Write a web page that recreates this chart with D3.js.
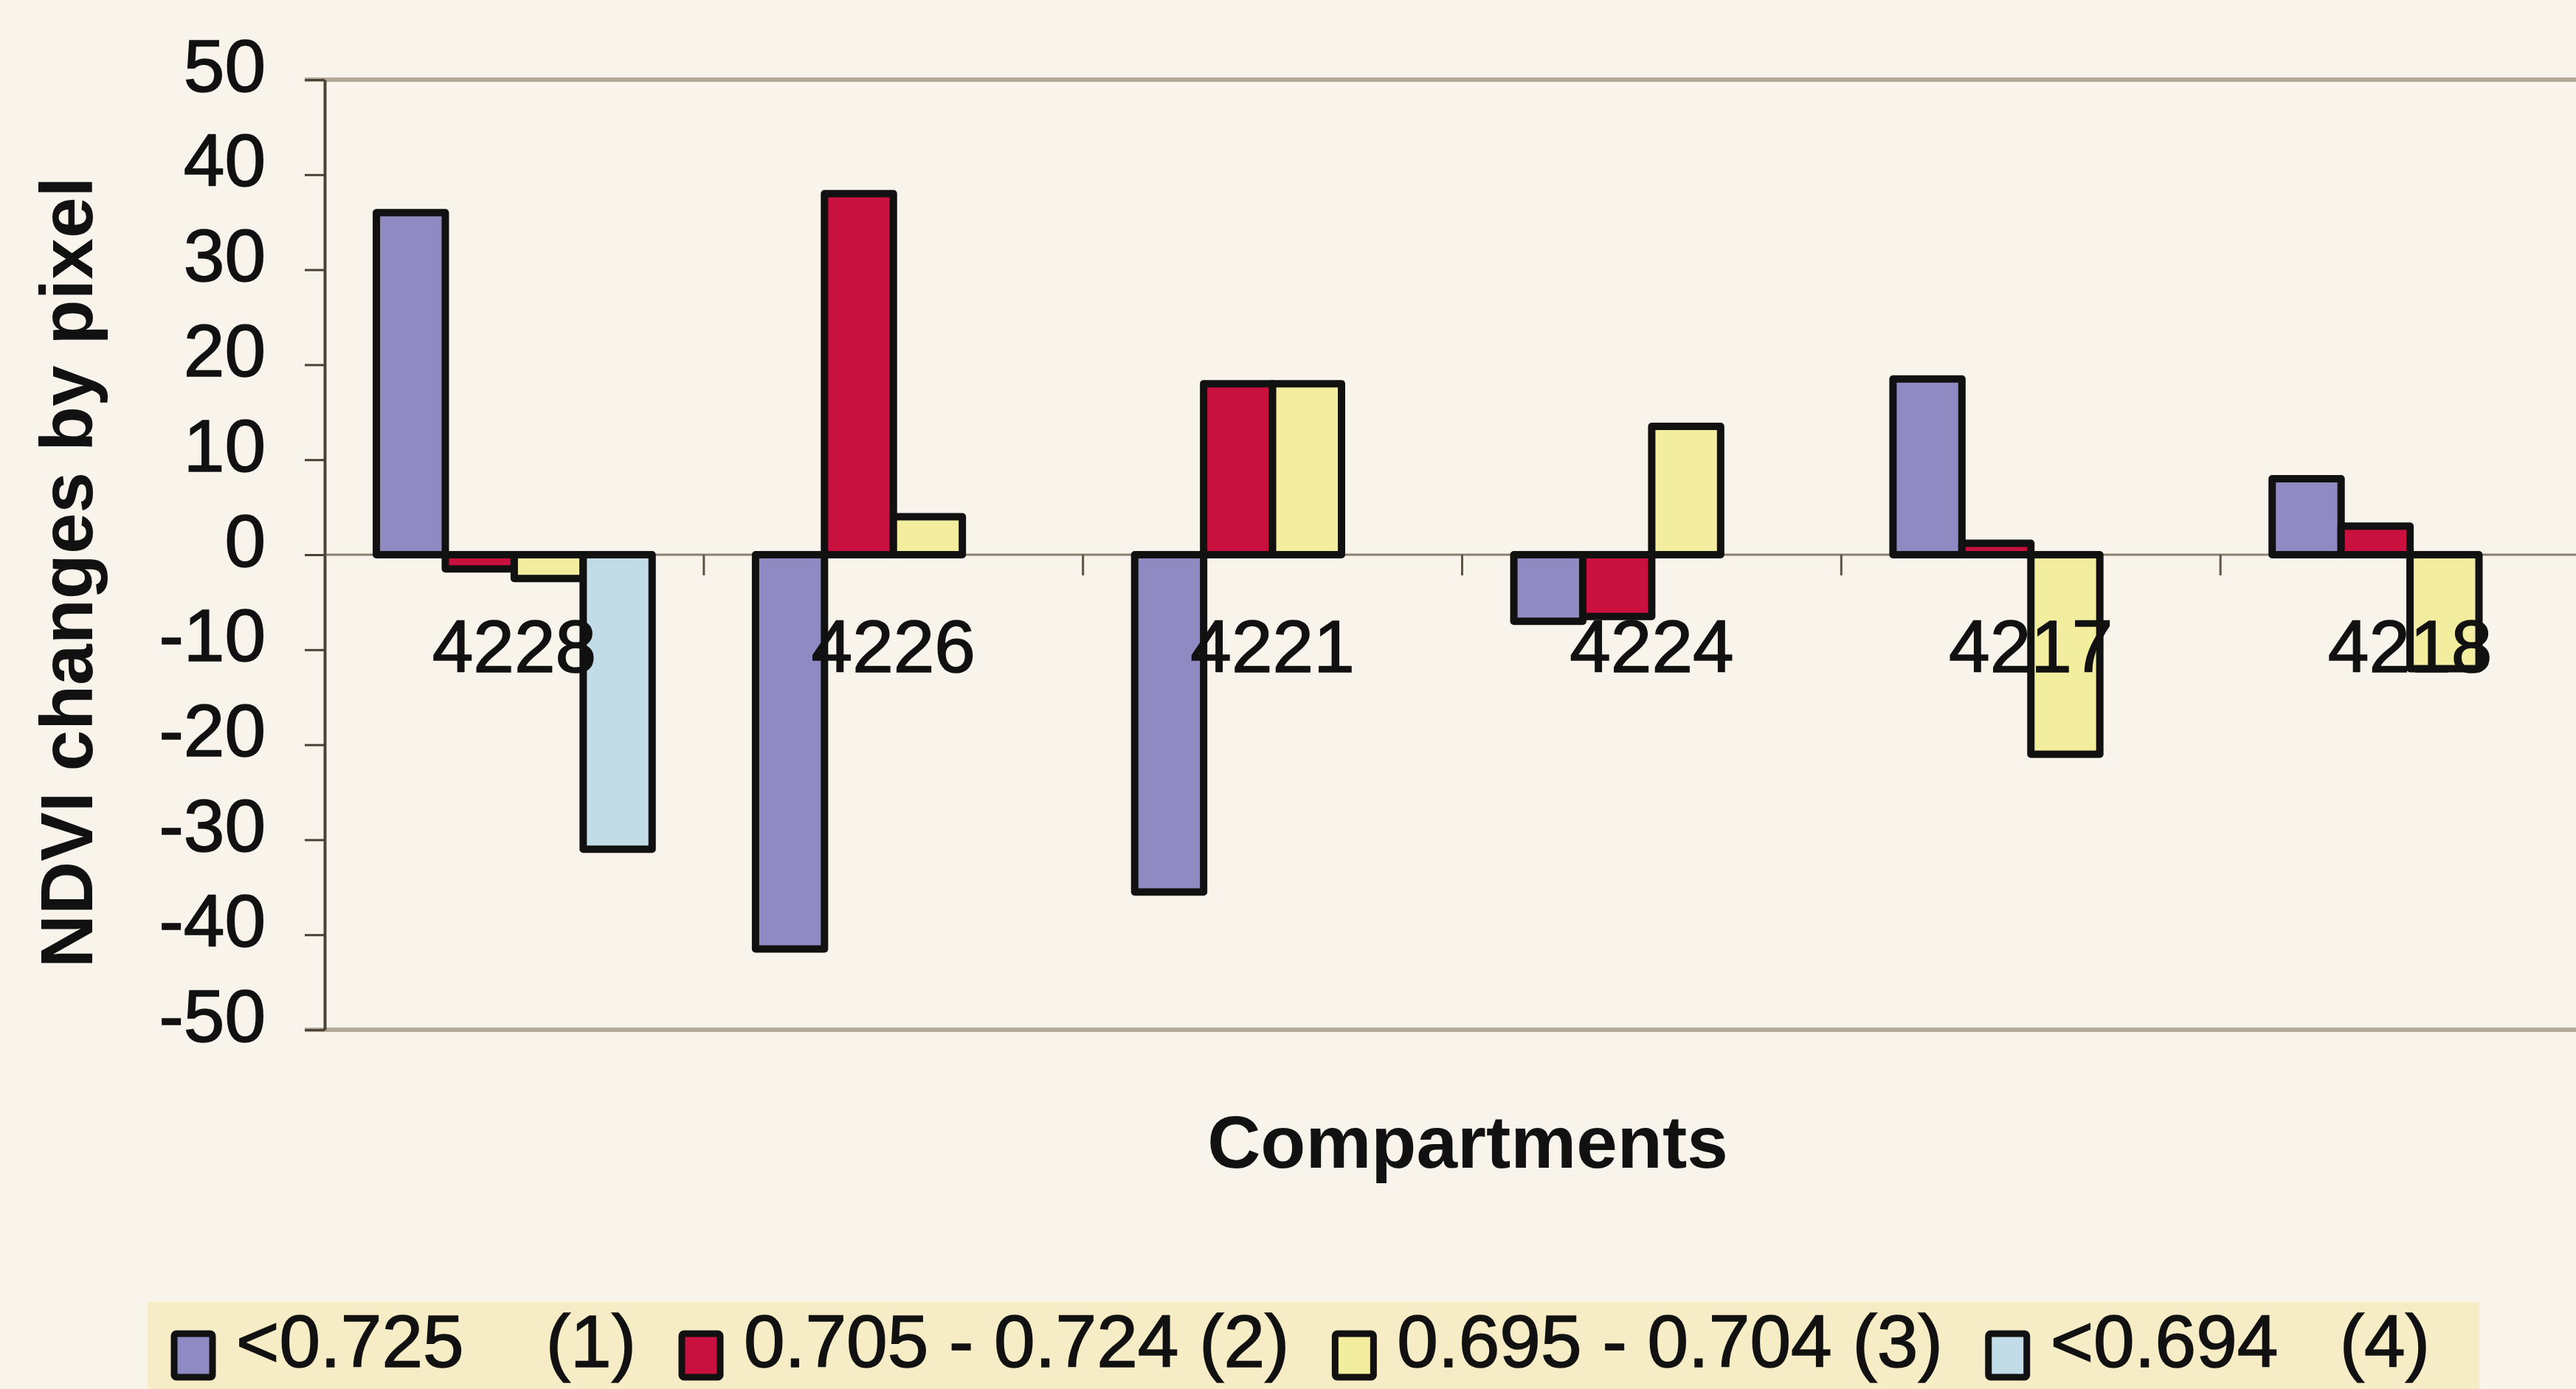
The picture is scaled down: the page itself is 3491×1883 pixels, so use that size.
<!DOCTYPE html>
<html>
<head>
<meta charset="utf-8">
<script src="https://cdn.jsdelivr.net/npm/d3@7"></script>
<style>
  html, body { margin: 0; padding: 0; background: #f8f4eb; }
  svg { display: block; }
  text { font-family: "Liberation Sans", Arial, Helvetica, sans-serif; fill: #111; }
  .heavy { stroke: #111; stroke-width: 1.6px; }
</style>
</head>
<body>
<svg id="chart" width="3491" height="1883"></svg>
<script>
// Compartments along the category axis
const categories = ["4228", "4226", "4221", "4224", "4217", "4218"];

// NDVI classes (legend entries)
const seriesNames = ["<0.725    (1)", "0.705 - 0.724 (2)", "0.695 - 0.704 (3)", "<0.694   (4)"];

// NDVI change by pixel for each class, one value per compartment
const class1 = [36, -41.5, -35.5, -7, 18.5, 8];
const class2 = [-1.5, 38, 18, -6.5, 1.2, 3];
const class3 = [-2.5, 4, 18, 13.5, -21, -12];
const class4 = [-31, 0, 0, 0, 0, 0];

// Value axis tick labels
const yTicks = [-50, -40, -30, -20, -10, 0, 10, 20, 30, 40, 50];

const seriesValues = [class1, class2, class3, class4];
const seriesColors = ["#8f8ac2", "#c9113f", "#f3ee9f", "#c1dbe7"];

const svg = d3.select("#chart");
const W = 3491, H = 1883;

svg.append("rect").attr("width", W).attr("height", H).attr("fill", "#f8f4eb");

// Plot area (its right edge runs past the page edge)
const plotLeft = 440, plotRight = 3523, plotTop = 108, plotBottom = 1396;

const x0 = d3.scaleBand().domain(categories).range([plotLeft, plotRight]).padding(0);
const x1 = d3.scaleBand().domain(d3.range(seriesNames.length))
  .range([0, x0.bandwidth()]).paddingInner(0).paddingOuter(0.75);
const y = d3.scaleLinear().domain([-50, 50]).range([plotBottom, plotTop]);

// Plot-area border at top and bottom
[50, -50].forEach(v => {
  svg.append("line")
    .attr("x1", plotLeft - 27).attr("x2", W)
    .attr("y1", y(v)).attr("y2", y(v))
    .attr("stroke", "#b2a996").attr("stroke-width", 6);
});

// Zero line (category axis)
svg.append("line")
  .attr("x1", plotLeft).attr("x2", W)
  .attr("y1", y(0)).attr("y2", y(0))
  .attr("stroke", "#8a8272").attr("stroke-width", 3);

// Category tick marks between compartments
svg.append("g").selectAll("line")
  .data(categories.slice(1))
  .join("line")
  .attr("x1", d => x0(d)).attr("x2", d => x0(d))
  .attr("y1", y(0)).attr("y2", y(0) + 28)
  .attr("stroke", "#5c5446").attr("stroke-width", 3);

// Value axis (plain hyphen for negatives)
const yAxis = d3.axisLeft(y).tickValues(yTicks).tickFormat(d => String(d))
  .tickSize(27).tickSizeOuter(0).tickPadding(53);
const gy = svg.append("g").attr("transform", `translate(${plotLeft},0)`).call(yAxis);
gy.select(".domain").attr("stroke", "#4a4236").attr("stroke-width", 4);
gy.selectAll(".tick line").attr("stroke", "#4a4236").attr("stroke-width", 3);
gy.selectAll(".tick text")
  .attr("class", "heavy")
  .attr("font-size", 100)
  .attr("font-family", "Liberation Sans, Arial, sans-serif")
  .attr("fill", "#111")
  .attr("dy", "0.15em");

// Bars
const barData = [];
seriesValues.forEach((vals, s) => {
  vals.forEach((v, i) => {
    if (v !== 0) barData.push({ s, cat: categories[i], v });
  });
});

svg.append("g").selectAll("rect")
  .data(barData)
  .join("rect")
  .attr("x", d => x0(d.cat) + x1(d.s))
  .attr("width", x1.bandwidth())
  .attr("y", d => y(Math.max(d.v, 0)))
  .attr("height", d => Math.abs(y(d.v) - y(0)))
  .attr("fill", d => seriesColors[d.s])
  .attr("stroke", "#111")
  .attr("stroke-width", 10)
  .attr("stroke-linejoin", "round");

// Category labels
svg.append("g").selectAll("text")
  .data(categories)
  .join("text")
  .attr("class", "heavy")
  .attr("x", d => x0(d) + x0.bandwidth() / 2)
  .attr("y", 911)
  .attr("text-anchor", "middle")
  .attr("font-size", 100)
  .text(d => d);

// Axis titles
svg.append("text")
  .attr("transform", "translate(125,776) rotate(-90)")
  .attr("text-anchor", "middle")
  .attr("font-size", 100)
  .attr("font-weight", "bold")
  .text("NDVI changes by pixel");

svg.append("text")
  .attr("x", 1989).attr("y", 1583)
  .attr("text-anchor", "middle")
  .attr("font-size", 100)
  .attr("font-weight", "bold")
  .text("Compartments");

// Legend
const legend = svg.append("g");
legend.append("rect")
  .attr("x", 200).attr("y", 1765)
  .attr("width", 3160).attr("height", H - 1765)
  .attr("fill", "#f6edc6");

let lx = 236;
seriesNames.forEach((name, s) => {
  legend.append("rect")
    .attr("x", lx).attr("y", 1808)
    .attr("width", 52).attr("height", 59)
    .attr("fill", seriesColors[s])
    .attr("stroke", "#111").attr("stroke-width", 9)
    .attr("rx", 3);
  const t = legend.append("text")
    .attr("class", "heavy")
    .attr("x", lx + 84).attr("y", 1853)
    .attr("font-size", 100)
    .attr("xml:space", "preserve")
    .style("white-space", "pre")
    .text(name);
  lx += 84 + t.node().getComputedTextLength() + 62;
});
</script>
</body>
</html>
